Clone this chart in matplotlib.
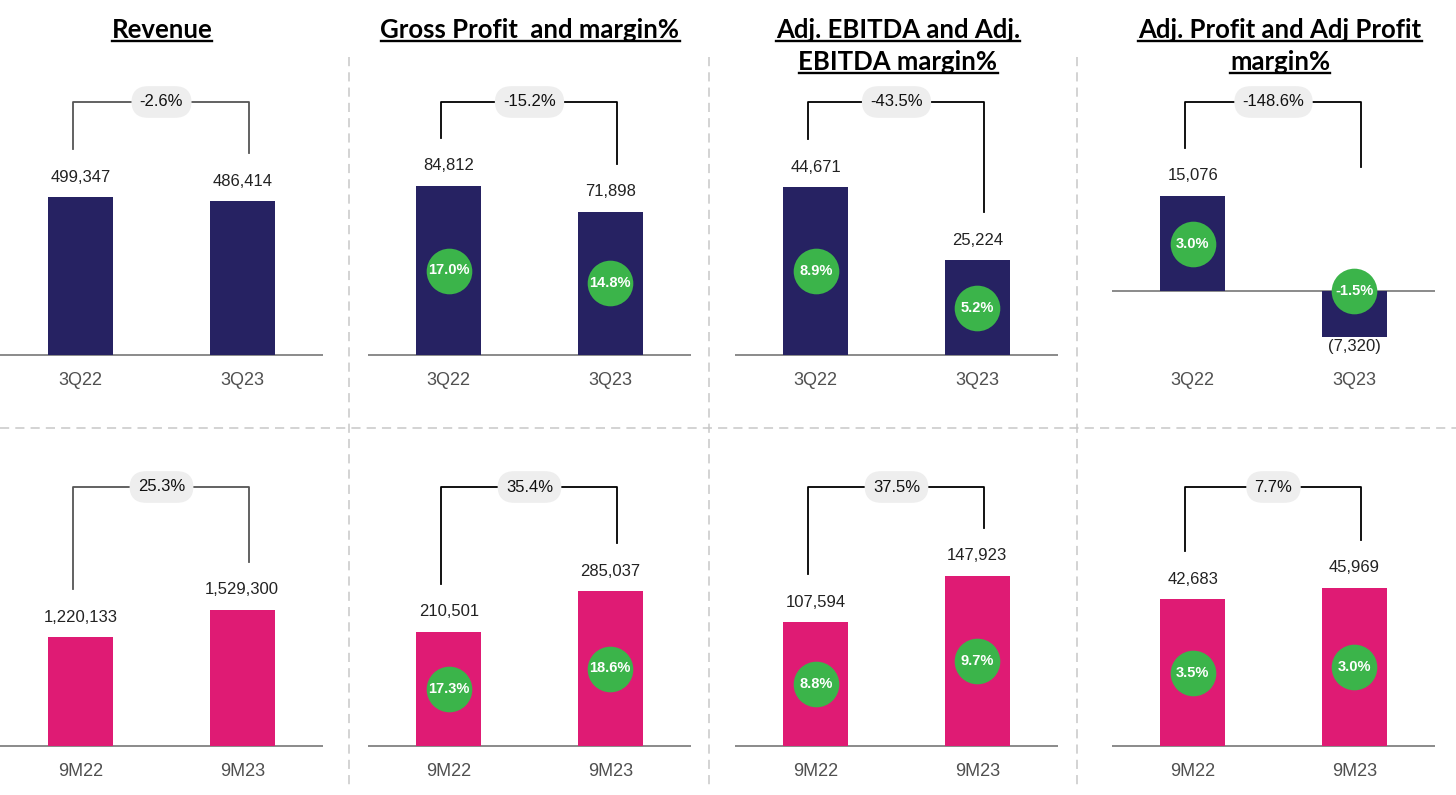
import matplotlib
matplotlib.use("Agg")
import matplotlib.pyplot as plt
from matplotlib.lines import Line2D

plt.rcParams['font.family'] = ['Liberation Sans', 'DejaVu Sans']

titles = [["Revenue"], ["Gross Profit  and margin%"],
          ["Adj. EBITDA and Adj.", "EBITDA margin%"],
          ["Adj. Profit and Adj Profit", "margin%"]]

q_labels = ["3Q22", "3Q23"]
m_labels = ["9M22", "9M23"]

q_values = [[499347, 486414], [84812, 71898], [44671, 25224], [15076, -7320]]
m_values = [[1220133, 1529300], [210501, 285037], [107594, 147923], [42683, 45969]]

q_change = ["-2.6%", "-15.2%", "-43.5%", "-148.6%"]
m_change = ["25.3%", "35.4%", "37.5%", "7.7%"]

q_margin = [None, ["17.0%", "14.8%"], ["8.9%", "5.2%"], ["3.0%", "-1.5%"]]
m_margin = [None, ["17.3%", "18.6%"], ["8.8%", "9.7%"], ["3.5%", "3.0%"]]

NAVY = "#262262"
PINK = "#df1b74"
GREEN = "#3bb44a"
W, H = 1456, 795

fig = plt.figure(figsize=(W / 100, H / 100), dpi=100)

col_left = [0, 368, 735, 1112]
ax_w = 323


def fmt(v):
    return f"{v:,}" if v >= 0 else f"({abs(v):,})"


def panel(col, top, bot, base, tallest, horiz, labels, values, change, margin, color):
    ax = fig.add_axes([col_left[col] / W, 1 - bot / H, ax_w / W, (bot - top) / H])
    s = max(abs(v) for v in values) / tallest  # value per pixel
    ymin = -(bot - base) * s
    ax.set_ylim(ymin, ymin + (bot - top) * s)
    ax.set_xlim(-0.5, 1.5)
    px2y = lambda p: ymin + (bot - p) * s

    x = [0, 1]
    ax.bar(x, values, width=0.4, color=color, zorder=2)
    ax.axhline(0, color="#777777", lw=1.2, zorder=1)

    for xi, v in zip(x, values):
        if v >= 0:
            ax.annotate(fmt(v), (xi, v), xytext=(0, 9), textcoords="offset points",
                        ha="center", va="bottom", fontsize=12, color="#222222")
        else:
            ax.annotate(fmt(v), (xi, v), xytext=(0, -1), textcoords="offset points",
                        ha="center", va="top", fontsize=12, color="#222222")

    if margin is not None:
        for xi, v, m in zip(x, values, margin):
            cy = max(v, 0) / 2
            ax.scatter([xi], [cy], s=1080, color=GREEN, zorder=3, linewidths=0)
            ax.text(xi, cy, m, ha="center", va="center", color="white",
                    fontsize=10.5, fontweight="bold", zorder=4)

    # bracket
    lc = "#555555" if col == 0 else "black"
    ends = []
    for v in values:
        if v < 0:
            ends.append(horiz + 65)
            continue
        top_px = bot - (v - ymin) / s
        ends.append(min(top_px - 48, horiz + 110))
    xl, xr = -0.05, 1.04
    ax.plot([xl, xl, xr, xr], [px2y(ends[0]), px2y(horiz), px2y(horiz), px2y(ends[1])],
            color=lc, lw=1.3, zorder=1, clip_on=False)
    ax.text(0.5, px2y(horiz), change, ha="center", va="center", fontsize=12,
            color="#111111", zorder=3,
            bbox=dict(boxstyle="round,pad=0.5,rounding_size=1.0", fc="#eeeeee", ec="none"))

    ax.set_xticks(x, labels)
    ax.tick_params(axis="x", length=0, pad=7, labelsize=13, labelcolor="#505050")
    ax.set_yticks([])
    for sp in ax.spines.values():
        sp.set_visible(False)
    ax.patch.set_alpha(0)


top_base = [355, 355, 355, 291]
top_tall = [158, 169, 168, 95]
bot_tall = [136, 155, 170, 158]

for c in range(4):
    panel(c, 80, 362, top_base[c], top_tall[c], 102, q_labels, q_values[c],
          q_change[c], q_margin[c], NAVY)
    panel(c, 440, 753, 746, bot_tall[c], 487, m_labels, m_values[c],
          m_change[c], m_margin[c], PINK)

# titles with underline
title_cx = [162, 530, 898, 1280]
title_texts = []
for c, lines in enumerate(titles):
    for i, line in enumerate(lines):
        yb = 38 + i * 32
        t = fig.text(title_cx[c] / W, 1 - yb / H, line, ha="center", va="baseline",
                     fontsize=18.5, fontweight="bold", family=["Lato", "DejaVu Sans"],
                     color="black")
        title_texts.append((t, yb))

fig.canvas.draw()
r = fig.canvas.get_renderer()
for t, yb in title_texts:
    bb = t.get_window_extent(r)
    yu = 1 - (yb + 3) / H
    fig.add_artist(Line2D([bb.x0 / W, bb.x1 / W], [yu, yu], color="black", lw=1.7))

# dashed separators
sep = dict(color="#c8c8c8", lw=1.1, linestyle=(0, (6, 4)))
for xs in [349, 709, 1077]:
    fig.add_artist(Line2D([xs / W, xs / W], [1 - 57 / H, 1 - 790 / H], **sep))
fig.add_artist(Line2D([0, 1], [1 - 428 / H, 1 - 428 / H], **sep))

fig.savefig("out.png", dpi=100, facecolor="white")
